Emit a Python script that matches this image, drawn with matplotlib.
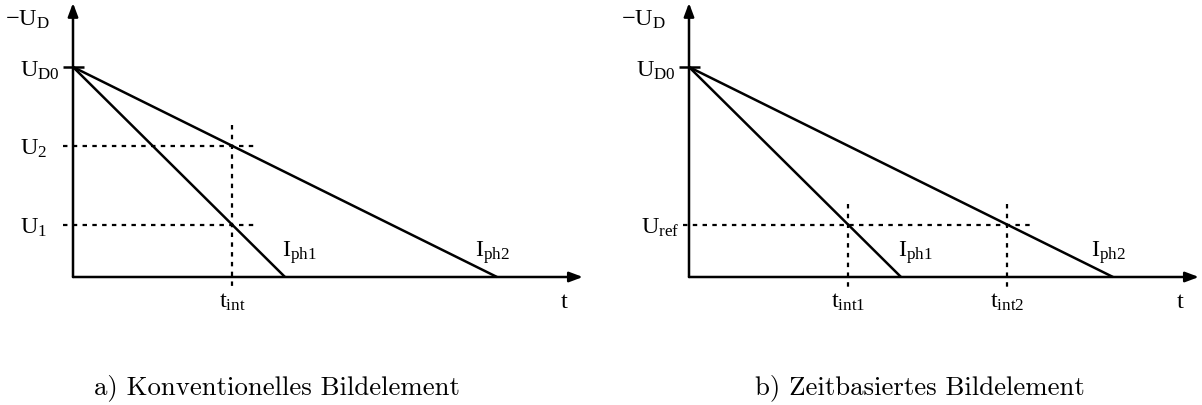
import matplotlib.pyplot as plt

plt.rcParams['mathtext.fontset'] = 'custom'
plt.rcParams['mathtext.rm'] = 'Liberation Serif'
plt.rcParams['mathtext.it'] = 'Liberation Serif:italic'

# diode voltage ramps, in units of U_D0 and of the discharge time of I_ph1
U_D0 = 1.0
t_zero = [1.0, 2.0]           # ramps of I_ph1 and I_ph2 reach zero
ramp_names = ['ph1', 'ph2']

# a) conventional pixel: sample both ramps at a fixed integration time
t_int = 0.75
U_samples = [0.25, 0.625]     # U_1, U_2
U_names = ['1', '2']

# b) time based pixel: time until the ramp crosses U_ref
U_ref = 0.25
t_cross = [0.75, 1.5]         # t_int1, t_int2
t_names = ['int1', 'int2']

captions = ['a) Konventionelles Bildelement', 'b) Zeitbasiertes Bildelement']

W, H = 1202, 405
sx, sy = 212.0, 210.0         # pixels per unit on t and U
origins = [73, 689]           # x pixel of each U axis
y0 = 277                      # y pixel of the t axis

fig = plt.figure(figsize=(W / 100, H / 100), dpi=100)

lw = 1.8
dots = dict(color='black', lw=1.6, linestyle=(0, (2.0, 2.4)))
fs = 17.5


def panel(x0):
    left = x0 - 73
    width = min(600, W - left)
    ax = fig.add_axes([left / W, 0, width / W, 1])
    ax.set_xlim(-73 / sx, (width - 73) / sx)
    ax.set_ylim(-(H - y0) / sy, y0 / sy)
    ax.axis('off')

    # axes with arrow heads
    arrow = dict(arrowstyle='-|>,head_length=0.8,head_width=0.3', mutation_scale=10,
                 lw=lw, color='black', shrinkA=0, shrinkB=0)
    ax.annotate('', xy=(0, 1.305), xytext=(0, 0), arrowprops=arrow)
    ax.annotate('', xy=(2.405, 0), xytext=(0, 0), arrowprops=arrow)

    # U_D0 tick and label
    ax.plot([-0.047, 0.052], [U_D0, U_D0], color='black', lw=lw, solid_capstyle='butt')
    ax.text(-0.06, U_D0 - 0.045, r'$\mathrm{U_{D0}}$', ha='right', va='baseline', fontsize=fs)
    ax.text(-0.108, 1.195, r'$\mathrm{-U_D}$', ha='right', va='baseline', fontsize=fs)
    ax.text(2.32, -0.148, r'$\mathrm{t}$', ha='center', va='baseline', fontsize=fs)

    # discharge ramps
    for tz, name, dx in zip(t_zero, ramp_names, [-0.015, -0.105]):
        ax.plot([0, tz], [U_D0, 0], color='black', lw=lw, solid_capstyle='butt')
        ax.text(tz + dx, 0.095, r'$\mathrm{I_{%s}}$' % name, ha='left', va='baseline', fontsize=fs)
    return ax


# a) conventional pixel
ax = panel(origins[0])
for u, name in zip(U_samples, U_names):
    ax.plot([-0.047, t_int + 0.11], [u, u], **dots)
    ax.text(-0.123, u - 0.045, r'$\mathrm{U_{%s}}$' % name, ha='right', va='baseline', fontsize=fs)
ax.plot([t_int, t_int], [max(U_samples) + 0.1, -0.062], **dots)
ax.text(t_int, -0.148, r'$\mathrm{t_{int}}$', ha='center', va='baseline', fontsize=fs)

# b) time based pixel
ax = panel(origins[1])
ax.plot([-0.03, max(t_cross) + 0.13], [U_ref, U_ref], **dots)
ax.text(-0.045, U_ref - 0.045, r'$\mathrm{U_{ref}}$', ha='right', va='baseline', fontsize=fs)
for t, name in zip(t_cross, t_names):
    ax.plot([t, t], [U_ref + 0.1, -0.062], **dots)
    ax.text(t, -0.148, r'$\mathrm{t_{%s}}$' % name, ha='center', va='baseline', fontsize=fs)

# captions under each panel
for xc, cap in zip([277, 920], captions):
    fig.text(xc / W, 1 - 394 / H, cap, ha='center', va='baseline',
             fontsize=19.3, family='cmr10')

fig.savefig('out.png', dpi=100)
